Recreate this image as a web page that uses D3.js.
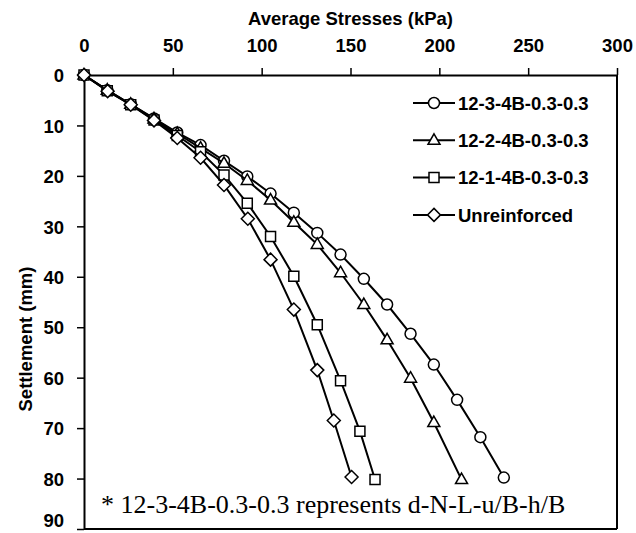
<!DOCTYPE html>
<html>
<head>
<meta charset="utf-8">
<script src="https://cdn.jsdelivr.net/npm/d3@7"></script>
<style>
  body { margin: 0; background: white; }
</style>
</head>
<body>
<script>
// Series values (stress in kPa, settlement in mm)
const seriesNames = ["12-3-4B-0.3-0.3", "12-2-4B-0.3-0.3", "12-1-4B-0.3-0.3", "Unreinforced"];
const seriesShapes = ["circle", "triangle", "square", "diamond"];

const stress1 = [0, 13.1, 26.3, 39.4, 52.5, 65.6, 78.8, 91.9, 105, 118.1, 131.3, 144.4, 157.5, 170.6, 183.8, 196.9, 210, 223.1, 236.3];
const settle1 = [0, 3.0, 5.8, 8.6, 11.4, 13.9, 17.0, 20.1, 23.5, 27.3, 31.3, 35.6, 40.4, 45.5, 51.3, 57.4, 64.4, 71.8, 79.8];

const stress2 = [0, 13.1, 26.3, 39.4, 52.5, 65.6, 78.8, 91.9, 105, 118.1, 131.3, 144.4, 157.5, 170.6, 183.8, 196.9, 212.5];
const settle2 = [0, 3.0, 5.8, 8.7, 11.6, 14.5, 17.5, 20.9, 24.8, 29.2, 33.6, 39.2, 45.5, 52.5, 60.1, 68.9, 80.2];

const stress3 = [0, 13.1, 26.3, 39.4, 52.5, 65.6, 78.8, 91.9, 105, 118.1, 131.3, 144.4, 155.3, 163.8];
const settle3 = [0, 3.1, 5.9, 8.9, 12.0, 15.2, 19.8, 25.4, 32.0, 39.9, 49.5, 60.6, 70.6, 80.2];

const stress4 = [0, 13.3, 26.3, 39.4, 52.5, 65.6, 78.8, 92.2, 105, 118.1, 131.3, 140.6, 150.6];
const settle4 = [0, 3.2, 5.9, 9.0, 12.5, 16.4, 21.8, 28.5, 36.6, 46.5, 58.5, 68.5, 79.7];

const xTicks = [0, 50, 100, 150, 200, 250, 300];
const yTicks = [0, 10, 20, 30, 40, 50, 60, 70, 80, 90];

const series = [
    {name: seriesNames[0], shape: seriesShapes[0], x: stress1, y: settle1},
    {name: seriesNames[1], shape: seriesShapes[1], x: stress2, y: settle2},
    {name: seriesNames[2], shape: seriesShapes[2], x: stress3, y: settle3},
    {name: seriesNames[3], shape: seriesShapes[3], x: stress4, y: settle4}
];

// Set up margins
const margin = {left: 84, top: 75, right: 19, bottom: 4};
const outerWidth = 636;
const outerHeight = 533;
const width = outerWidth - margin.left - margin.right;
const height = outerHeight - margin.top - margin.bottom;

const svg = d3.select("body").append("svg")
    .attr("width", outerWidth)
    .attr("height", outerHeight)
    .style("background", "white");

const canvas = svg.append("g")
    .attr("transform", `translate(${margin.left}, ${margin.top})`);

// Scales
const xScale = d3.scaleLinear().domain([0, 300]).range([0, width]);
const yScale = d3.scaleLinear().domain([0, 90]).range([0, height]);

// Axes
const xAxis = d3.axisTop(xScale).tickValues(xTicks).tickSize(7).tickSizeOuter(0).tickPadding(16);
const yAxis = d3.axisLeft(yScale).tickValues(yTicks).tickSize(7).tickSizeOuter(0).tickPadding(13);

const xAxisGroup = canvas.append("g").call(xAxis);
const yAxisGroup = canvas.append("g").call(yAxis);

[xAxisGroup, yAxisGroup].forEach(g => {
    g.selectAll("path").attr("stroke", "black").attr("stroke-width", 2);
    g.selectAll("line").attr("stroke", "black").attr("stroke-width", 1.5);
    g.selectAll("text")
        .style("font-family", "Liberation Sans, Arial, sans-serif")
        .style("font-size", "18.5px")
        .style("font-weight", "bold")
        .style("fill", "black");
});
// last label sits at the bottom edge, nudge it up so it stays inside
yAxisGroup.selectAll("text").attr("dy", d => d === 90 ? "-0.14em" : "0.36em");

// Right and bottom border
canvas.append("line")
    .attr("x1", width).attr("x2", width)
    .attr("y1", 0).attr("y2", height)
    .attr("stroke", "black").attr("stroke-width", 2);
canvas.append("line")
    .attr("x1", 0).attr("x2", width)
    .attr("y1", height).attr("y2", height)
    .attr("stroke", "black").attr("stroke-width", 2);

// Axis titles
svg.append("text")
    .text("Average Stresses (kPa)")
    .attr("x", margin.left + width / 2)
    .attr("y", 25)
    .style("text-anchor", "middle")
    .style("font-family", "Liberation Sans, Arial, sans-serif")
    .style("font-size", "18.5px")
    .style("font-weight", "bold");

svg.append("text")
    .text("Settlement (mm)")
    .attr("transform", "translate(32, 339) rotate(-90)")
    .style("text-anchor", "middle")
    .style("font-family", "Liberation Sans, Arial, sans-serif")
    .style("font-size", "18.5px")
    .style("font-weight", "bold");

// Marker shapes
const markerPath = (shape) => {
    if (shape === "circle") return d3.symbol(d3.symbolCircle, 95)();
    if (shape === "square") return "M-5,-5H5V5H-5Z";
    if (shape === "triangle") return "M0,-6.5L6,4L-6,4Z";
    return "M0,-6.5L6.5,0L0,6.5L-6.5,0Z";
};

const line = d3.line()
    .x(d => xScale(d[0]))
    .y(d => yScale(d[1]));

series.forEach(s => {
    const pts = s.x.map((v, i) => [v, s.y[i]]);
    canvas.append("path")
        .datum(pts)
        .attr("fill", "none")
        .attr("stroke", "black")
        .attr("stroke-width", 2)
        .attr("d", line);
    canvas.selectAll(".pt-" + s.shape)
        .data(pts)
        .join("path")
        .attr("class", "pt-" + s.shape)
        .attr("transform", d => `translate(${xScale(d[0])}, ${yScale(d[1])})`)
        .attr("d", markerPath(s.shape))
        .attr("fill", "white")
        .attr("stroke", "black")
        .attr("stroke-width", 1.5);
});

// Legend
const legend = svg.append("g").attr("transform", "translate(413, 103)");
series.forEach((s, i) => {
    const row = legend.append("g").attr("transform", `translate(0, ${i * 37.3})`);
    row.append("line")
        .attr("x1", 0).attr("x2", 42)
        .attr("y1", 0).attr("y2", 0)
        .attr("stroke", "black").attr("stroke-width", 2);
    row.append("path")
        .attr("transform", "translate(21, 0)")
        .attr("d", markerPath(s.shape))
        .attr("fill", "white")
        .attr("stroke", "black")
        .attr("stroke-width", 1.5);
    row.append("text")
        .text(s.name)
        .attr("x", 45)
        .attr("y", 0)
        .attr("dy", "0.36em")
        .style("font-family", "Liberation Sans, Arial, sans-serif")
        .style("font-size", "18.5px")
        .style("font-weight", "bold");
});

// Note
svg.append("text")
    .text("* 12-3-4B-0.3-0.3 represents d-N-L-u/B-h/B")
    .attr("x", 101)
    .attr("y", 513)
    .style("font-family", "Liberation Serif, Times New Roman, serif")
    .style("font-size", "26px");
</script>
</body>
</html>
